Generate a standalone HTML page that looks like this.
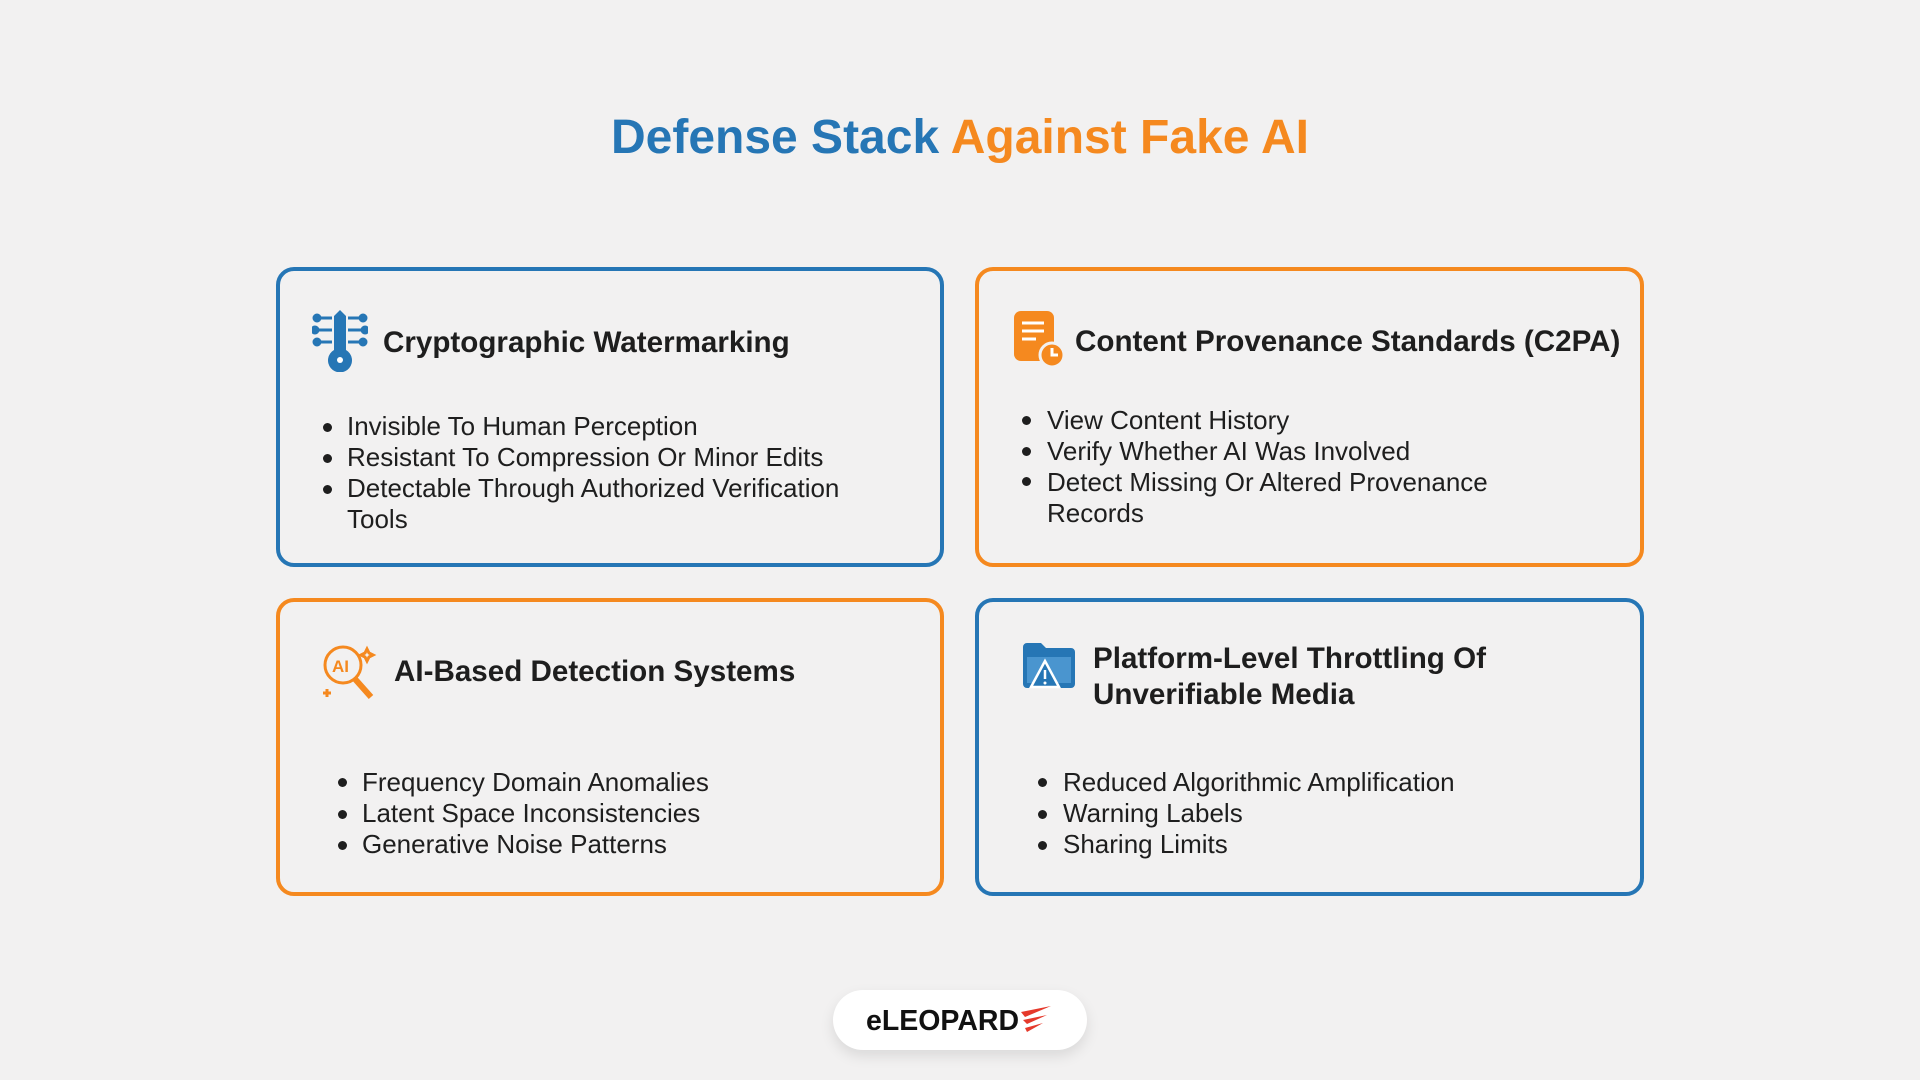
<!DOCTYPE html>
<html><head><meta charset="utf-8"><style>
body{margin:0;width:1920px;height:1080px;background:#f2f1f1;font-family:"Liberation Sans",sans-serif;position:relative;overflow:hidden;color:#1e1e1e}
.t{position:absolute;white-space:nowrap}
.card{position:absolute;border:4px solid;border-radius:18px;box-sizing:border-box}
.b{border-color:#2676b5}.o{border-color:#f5891f}
.h{font-size:29.6px;font-weight:bold;line-height:36px}
.li{font-size:26px;line-height:31px}
.dot{position:absolute;width:9px;height:9px;border-radius:50%;background:#1e1e1e}
</style></head><body>
<div class="t" style="left:0;width:1920px;text-align:center;top:110px;font-size:48px;font-weight:bold;line-height:56px"><span style="color:#2676b5">Defense Stack</span> <span style="color:#f5891f">Against Fake AI</span></div>

<div class="card b" style="left:276px;top:267px;width:668px;height:300px"></div>
<div class="card o" style="left:975px;top:267px;width:669px;height:300px"></div>
<div class="card o" style="left:276px;top:598px;width:668px;height:298px"></div>
<div class="card b" style="left:975px;top:598px;width:669px;height:298px"></div>

<!-- card1 -->
<svg class="t" style="left:312px;top:310px" width="56" height="62" viewBox="0 0 56 62"><g fill="#2676b5" stroke="#2676b5" stroke-width="3"><line x1="6" y1="8" x2="20" y2="8"/><line x1="4" y1="20" x2="20" y2="20"/><line x1="6" y1="32" x2="20" y2="32"/><line x1="36" y1="8" x2="50" y2="8"/><line x1="36" y1="20" x2="52" y2="20"/><line x1="36" y1="32" x2="50" y2="32"/><circle cx="5" cy="8" r="3"/><circle cx="3" cy="20" r="3"/><circle cx="5" cy="32" r="3"/><circle cx="51" cy="8" r="3"/><circle cx="53" cy="20" r="3"/><circle cx="51" cy="32" r="3"/></g><path d="M22 6 L28 0 L34 6 V40 A12 12 0 1 1 22 40Z" fill="#2676b5"/><circle cx="28" cy="50" r="3" fill="#fff"/></svg>
<div class="t h" style="left:383px;top:325px">Cryptographic Watermarking</div>
<div class="dot" style="left:323px;top:423px"></div><div class="dot" style="left:323px;top:454px"></div><div class="dot" style="left:323px;top:485px"></div>
<div class="t li" style="left:347px;top:411px">Invisible To Human Perception<br>Resistant To Compression Or Minor Edits<br>Detectable Through Authorized Verification<br>Tools</div>

<!-- card2 -->
<svg class="t" style="left:1014px;top:311px" width="52" height="58" viewBox="0 0 52 58"><rect x="0" y="0" width="40" height="50" rx="7" fill="#f5891f"/><g stroke="#fff" stroke-width="3"><line x1="8" y1="12" x2="30" y2="12"/><line x1="8" y1="20" x2="30" y2="20"/><line x1="8" y1="28" x2="22" y2="28"/></g><circle cx="38" cy="44" r="12" fill="#f5891f" stroke="#f2f1f1" stroke-width="3"/><path d="M38 37V44H44" stroke="#fff" stroke-width="3" fill="none"/></svg>
<div class="t h" style="left:1075px;top:324px">Content Provenance Standards (C2PA)</div>
<div class="dot" style="left:1022px;top:416px"></div><div class="dot" style="left:1022px;top:447px"></div><div class="dot" style="left:1022px;top:477px"></div>
<div class="t li" style="left:1047px;top:405px">View Content History<br>Verify Whether AI Was Involved<br>Detect Missing Or Altered Provenance<br>Records</div>

<!-- card3 -->
<svg class="t" style="left:321px;top:643px" width="58" height="58" viewBox="0 0 58 58"><g fill="none" stroke="#f5891f" stroke-width="3"><circle cx="22" cy="22" r="18"/><line x1="34" y1="36" x2="50" y2="54" stroke-width="6"/><path d="M46 6l2 4 4 2-4 2-2 4-2-4-4-2 4-2z"/><line x1="2" y1="50" x2="10" y2="50"/><line x1="6" y1="46" x2="6" y2="54"/></g><text x="11" y="29" font-size="17" font-weight="bold" fill="#f5891f" font-family="Liberation Sans">AI</text></svg>
<div class="t h" style="left:394px;top:654px">AI-Based Detection Systems</div>
<div class="dot" style="left:338px;top:778px"></div><div class="dot" style="left:338px;top:810px"></div><div class="dot" style="left:338px;top:841px"></div>
<div class="t li" style="left:362px;top:767px">Frequency Domain Anomalies<br>Latent Space Inconsistencies<br>Generative Noise Patterns</div>

<!-- card4 -->
<svg class="t" style="left:1023px;top:643px" width="52" height="50" viewBox="0 0 52 50"><path d="M0 4a4 4 0 0 1 4-4h14l5 5h25a4 4 0 0 1 4 4v32a4 4 0 0 1-4 4H4a4 4 0 0 1-4-4z" fill="#2676b5"/><path d="M4 14h44v26H4z" fill="#4a95cf"/><path d="M22 18L8 44h28z" fill="#2676b5" stroke="#fff" stroke-width="2.5"/><line x1="22" y1="27" x2="22" y2="36" stroke="#fff" stroke-width="2.5"/><circle cx="22" cy="40" r="1.5" fill="#fff"/></svg>
<div class="t h" style="left:1093px;top:641px;line-height:36px">Platform-Level Throttling Of<br>Unverifiable Media</div>
<div class="dot" style="left:1038px;top:778px"></div><div class="dot" style="left:1038px;top:810px"></div><div class="dot" style="left:1038px;top:841px"></div>
<div class="t li" style="left:1063px;top:767px">Reduced Algorithmic Amplification<br>Warning Labels<br>Sharing Limits</div>

<!-- logo -->
<div style="position:absolute;left:833px;top:990px;width:254px;height:60px;border-radius:30px;background:#fff;box-shadow:0 6px 14px rgba(0,0,0,0.1)"></div>
<div class="t" style="left:866px;top:1003px;font-size:28.5px;font-weight:bold;line-height:36px;color:#111">eLEOPARD</div>
<svg class="t" style="left:1021px;top:1006px" width="30" height="28" viewBox="0 0 30 28"><g fill="#e5392b"><path d="M0 6L30 0 4 11z"/><path d="M2 14L26 9 6 18z"/><path d="M4 22L22 17 6 26z"/></g></svg>
</body></html>
